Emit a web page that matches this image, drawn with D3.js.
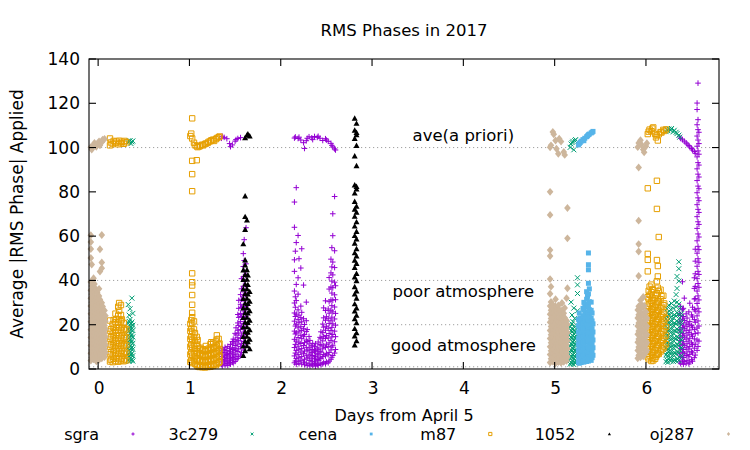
<!DOCTYPE html>
<html>
<head>
<meta charset="utf-8">
<script src="https://cdn.jsdelivr.net/npm/d3@7"></script>
<style>
  body { margin: 0; background: #fff; }
  svg text { font-family: "DejaVu Sans", sans-serif; }
</style>
</head>
<body>
<svg id="chart" width="750" height="450"></svg>
<script>
// each entry: [day from April 5, [RMS phase values read at that time]]
const sgra = [
  [1.35, [2.1, 4.3, 6.8, 8.2, 104.2]],
  [1.36, [1.4, 3.2, 5.6, 7.4, 9.1, 105.1]],
  [1.38, [2.6, 4.1, 6.2, 8.7, 104.6]],
  [1.39, [1.8, 3.7, 5.1, 7.6, 9.8]],
  [1.41, [2.4, 4.8, 6.5, 8.4, 104.0]],
  [1.42, [1.6, 3.3, 5.9, 7.1, 10.2]],
  [1.44, [2.9, 4.5, 6.9, 9.3, 101.8]],
  [1.45, [2.2, 3.9, 5.4, 8.0, 11.1, 100.4]],
  [1.47, [3.1, 5.2, 7.3, 9.6, 12.4, 101.2]],
  [1.48, [2.7, 4.6, 6.4, 8.8, 11.7, 13.5]],
  [1.50, [3.4, 5.8, 8.3, 10.6, 13.2, 16.1, 102.9]],
  [1.51, [4.2, 6.7, 9.4, 12.3, 15.4, 18.6, 103.6]],
  [1.53, [4.8, 7.9, 11.2, 14.1, 17.5, 20.8, 24.6, 104.1]],
  [1.54, [5.6, 9.1, 12.8, 16.2, 19.7, 23.3, 27.4, 31.0]],
  [1.56, [6.3, 10.2, 13.9, 17.8, 21.4, 25.1, 29.2, 33.6, 104.5]],
  [1.57, [7.4, 11.6, 15.3, 19.2, 23.7, 27.8, 31.5, 36.2, 40.8]],
  [1.59, [8.6, 12.4, 16.7, 20.5, 24.9, 28.3, 32.9, 37.4, 41.6, 46.3, 52.1]],
  [1.60, [9.8, 14.1, 18.3, 22.6, 26.2, 30.7, 34.8, 39.5, 44.2, 49.0, 58.4]],
  [1.62, [11.3, 15.6, 19.9, 23.8, 28.1, 33.4, 37.2, 42.7, 47.5, 63.8]],
  [2.15, [2.8, 5.9, 9.7, 13.4, 17.1, 21.6, 25.3, 29.8, 35.2, 44.1, 49.3, 64.0, 75.4, 104.3]],
  [2.16, [3.6, 7.2, 11.1, 15.8, 19.4, 23.7, 27.9, 32.6, 53.2, 104.8]],
  [2.17, [2.1, 4.7, 8.4, 12.6, 16.3, 20.2, 24.8, 30.9, 38.2, 57.1, 81.9]],
  [2.19, [3.3, 6.6, 10.3, 14.2, 18.6, 22.4, 26.7, 33.8, 41.2, 60.3, 104.1]],
  [2.20, [2.4, 5.1, 8.9, 12.1, 16.8, 20.9, 24.3, 49.8, 104.7]],
  [2.22, [3.9, 7.6, 11.5, 15.2, 19.1, 23.2, 28.4, 45.6, 103.4]],
  [2.23, [2.2, 5.6, 9.2, 13.7, 17.4, 21.3, 25.6, 54.3]],
  [2.25, [3.1, 6.9, 10.6, 14.8, 18.2, 22.7, 37.9, 102.2]],
  [2.26, [1.9, 4.4, 8.1, 11.9, 15.6, 20.1, 99.6]],
  [2.28, [2.7, 6.2, 9.8, 13.1, 16.9, 21.8, 30.2, 103.1]],
  [2.29, [1.6, 4.9, 8.6, 12.4, 17.8, 104.2]],
  [2.31, [2.3, 5.4, 8.2, 11.3, 14.7, 104.9]],
  [2.32, [1.4, 3.8, 6.7, 9.6, 12.9]],
  [2.34, [2.1, 4.6, 7.4, 10.5, 104.4]],
  [2.35, [1.7, 3.5, 6.1, 8.8, 11.6, 103.6]],
  [2.37, [2.5, 4.9, 7.8, 10.1, 105.0]],
  [2.38, [1.3, 3.2, 5.7, 8.3, 11.4]],
  [2.40, [2.0, 4.3, 6.9, 9.5, 104.6]],
  [2.41, [1.6, 3.9, 6.4, 8.9, 12.2, 105.1]],
  [2.43, [2.6, 5.3, 8.0, 11.0, 14.3, 104.2]],
  [2.44, [1.9, 4.7, 7.6, 10.8, 13.9, 16.8]],
  [2.46, [2.3, 5.6, 9.1, 12.7, 16.4, 20.3, 103.2]],
  [2.47, [3.0, 6.5, 10.4, 14.6, 18.9, 23.1, 27.6]],
  [2.49, [2.4, 5.9, 9.7, 13.8, 17.5, 22.0, 26.4, 30.8, 104.0]],
  [2.50, [3.3, 7.1, 11.2, 15.1, 19.3, 23.6, 103.4]],
  [2.52, [2.8, 6.4, 10.1, 14.0, 18.4, 22.7, 27.1, 102.8]],
  [2.53, [3.6, 7.5, 11.8, 16.0, 20.6, 25.2, 30.4, 36.1, 41.3]],
  [2.55, [4.4, 8.6, 12.9, 17.4, 21.8, 26.5, 31.2, 37.0, 43.4, 49.6, 101.9]],
  [2.56, [5.3, 9.9, 14.5, 18.8, 23.4, 28.6, 34.3, 39.7, 46.1, 54.8, 101.0]],
  [2.57, [6.1, 10.7, 15.6, 20.4, 25.8, 31.1, 36.7, 42.5, 48.3, 60.2, 70.1, 100.3]],
  [2.59, [7.2, 12.3, 17.1, 22.6, 28.0, 33.5, 39.2, 45.8, 53.4, 77.9, 99.4]],
  [2.60, [8.8, 14.6, 19.8, 25.1, 31.3, 37.6, 98.9]],
  [6.37, [3.2, 6.8, 10.5, 14.1, 17.9, 21.6, 25.2, 104.8]],
  [6.38, [2.4, 5.7, 9.3, 12.8, 16.6, 20.4, 24.1, 28.3, 104.1]],
  [6.40, [3.7, 7.4, 11.1, 15.0, 18.7, 22.5, 26.8, 39.4, 103.5]],
  [6.41, [2.1, 5.2, 8.8, 12.3, 16.1, 19.8, 23.7, 27.4]],
  [6.42, [3.4, 6.9, 10.7, 14.4, 18.2, 21.9, 32.0, 102.9]],
  [6.44, [2.6, 6.1, 9.6, 13.5, 17.3, 20.8, 24.9, 102.1]],
  [6.45, [3.9, 7.7, 11.4, 15.3, 19.1, 23.0, 101.6]],
  [6.47, [2.3, 5.5, 9.0, 12.6, 16.4, 20.2, 25.8, 100.9]],
  [6.48, [3.1, 6.6, 10.2, 13.9, 17.6, 21.4, 29.7, 100.3]],
  [6.50, [4.2, 8.0, 11.8, 15.7, 19.6, 24.4, 99.6]],
  [6.51, [3.5, 7.3, 11.0, 14.8, 18.9, 23.5, 27.9, 98.9]],
  [6.53, [5.1, 9.4, 13.6, 17.8, 22.3, 26.9, 31.6, 36.4, 41.2, 98.2]],
  [6.54, [6.3, 11.2, 16.0, 21.1, 26.2, 31.8, 37.3, 43.0, 48.7, 54.1, 97.4]],
  [6.56, [8.4, 13.1, 18.5, 24.0, 29.6, 35.2, 40.8, 46.4, 52.3, 57.9, 63.5, 68.8, 74.2, 79.6, 85.1, 90.4, 95.8, 100.6, 105.2, 110.3, 117.2, 120.1]],
  [6.57, [10.2, 16.3, 21.7, 27.4, 33.0, 38.6, 44.1, 49.8, 55.4, 61.0, 66.5, 72.1, 77.3, 82.6, 88.0, 93.2, 98.5, 103.4, 108.1, 112.6, 129.1]],
  [6.58, [12.6, 19.4, 25.8, 31.2, 36.9, 42.7, 48.2, 53.9, 59.6, 65.3, 70.7, 76.0, 81.4, 86.7, 92.1, 97.0, 101.8, 106.9]]
]

const c3c279 = [
  [0.33, [4.1, 6.8, 9.5, 12.3, 15.2, 18.0, 20.7, 29.1, 102.2]],
  [0.34, [3.4, 5.9, 8.6, 11.4, 14.1, 17.2, 21.5, 24.3, 102.9]],
  [0.35, [4.7, 7.5, 10.3, 13.0, 16.1, 19.1, 22.4, 27.2, 103.1]],
  [0.36, [3.8, 6.3, 9.1, 12.0, 14.8, 17.7, 20.4, 101.8]],
  [0.37, [4.4, 7.1, 9.9, 12.8, 15.6, 18.6, 21.2, 32.0, 102.6]],
  [0.38, [3.6, 6.0, 8.9, 11.6, 14.5, 17.4, 19.8, 25.1, 103.0]],
  [5.17, [2.2, 4.8, 7.6, 10.4, 13.3, 16.1, 19.0, 100.1]],
  [5.18, [3.1, 5.9, 8.7, 11.5, 14.4, 17.5, 30.2, 101.6]],
  [5.19, [2.5, 5.2, 8.1, 10.9, 13.8, 16.8, 20.3, 24.4, 102.3]],
  [5.20, [3.4, 6.3, 9.2, 12.1, 15.0, 18.0, 21.4, 102.8]],
  [5.21, [2.0, 4.6, 7.3, 10.2, 13.1, 15.9, 19.2, 27.5, 99.0]],
  [5.22, [3.0, 5.7, 8.5, 11.3, 14.2, 17.3, 22.8, 103.1]],
  [5.23, [2.7, 5.4, 8.3, 11.1, 14.0, 16.6, 103.6]],
  [5.25, [3.5, 6.6, 9.6, 12.6, 15.4, 18.4, 26.3, 34.1, 38.0, 41.2]],
  [6.22, [3.3, 6.4, 9.5, 12.7, 15.9, 19.2, 22.6, 107.2]],
  [6.23, [4.1, 7.3, 10.6, 13.8, 17.1, 20.5, 24.0, 27.2, 108.1]],
  [6.24, [3.0, 6.0, 9.1, 12.2, 15.4, 18.6, 21.9, 25.5, 107.6]],
  [6.25, [4.5, 7.7, 10.9, 14.2, 17.5, 20.9, 24.6, 28.8, 108.4]],
  [6.27, [3.6, 6.7, 9.8, 13.1, 16.4, 19.8, 23.3, 26.9, 107.9]],
  [6.28, [4.8, 8.0, 11.3, 14.6, 18.0, 21.5, 25.2, 29.6, 108.6]],
  [6.30, [3.4, 6.5, 9.7, 12.9, 16.2, 19.6, 23.1, 27.5, 107.1]],
  [6.31, [4.3, 7.5, 10.8, 14.1, 17.4, 20.8, 24.5, 30.7, 107.8]],
  [6.33, [3.7, 6.9, 10.2, 13.5, 16.9, 20.3, 23.9, 28.1, 33.6, 106.9]],
  [6.34, [4.6, 7.9, 11.2, 14.6, 18.1, 21.6, 25.4, 30.2, 36.4, 41.8, 106.3]],
  [6.36, [3.9, 7.2, 10.5, 13.9, 17.4, 21.0, 24.8, 29.3, 39.7, 45.3, 48.4, 105.6]],
  [6.37, [5.2, 8.6, 12.1, 15.6, 19.3, 23.1, 27.4, 104.7]],
  [6.39, [6.0, 9.7, 13.4, 17.2, 21.1, 25.0]]
]

const cena = [
  [5.26, [3.2, 5.8, 8.5, 11.2, 13.9, 16.7, 19.6, 22.4, 101.2]],
  [5.27, [2.6, 5.1, 7.8, 10.6, 13.4, 16.2, 19.0, 21.9, 25.3, 101.8]],
  [5.28, [3.5, 6.2, 9.0, 11.8, 14.6, 17.5, 20.4, 23.1, 102.3]],
  [5.29, [2.9, 5.5, 8.3, 11.1, 13.8, 16.6, 19.5, 22.8, 102.9]],
  [5.31, [3.7, 6.5, 9.3, 12.2, 15.0, 17.9, 20.9, 24.0, 27.4, 103.6]],
  [5.32, [3.1, 5.9, 8.8, 11.7, 14.5, 17.4, 20.5, 23.6, 26.8, 30.1, 103.1]],
  [5.33, [4.0, 6.8, 9.7, 12.6, 15.5, 18.5, 21.6, 24.8, 28.2, 104.2]],
  [5.35, [3.4, 6.3, 9.2, 12.1, 15.1, 18.1, 21.2, 24.5, 27.9, 31.5, 34.9, 104.9]],
  [5.36, [4.3, 7.2, 10.1, 13.1, 16.1, 19.2, 22.4, 25.7, 29.2, 32.8, 105.3]],
  [5.37, [3.6, 6.5, 9.5, 12.5, 15.5, 18.6, 21.8, 25.1, 28.6, 33.9, 38.7, 44.8, 47.1, 52.4, 105.8]],
  [5.38, [4.6, 7.6, 10.6, 13.7, 16.8, 20.0, 23.3, 26.8, 30.4, 36.2, 106.1]],
  [5.40, [3.9, 6.9, 10.0, 13.1, 16.3, 19.6, 23.0, 26.5, 30.2, 106.6]],
  [5.41, [5.1, 8.3, 11.5, 14.8, 18.2, 21.7, 25.3, 106.9]],
  [5.42, [6.2, 9.6, 13.1, 16.7, 20.4, 107.3]]
]

const m87 = [
  [0.13, [3.4, 6.7, 10.1, 13.6, 17.2, 21.9, 104.1, 101.0]],
  [0.14, [4.2, 7.5, 11.0, 14.4, 18.0, 102.3]],
  [0.16, [3.1, 6.3, 9.8, 13.2, 16.7, 20.3, 101.6]],
  [0.17, [4.6, 8.0, 11.5, 14.9, 18.6, 22.1, 103.0]],
  [0.19, [3.6, 7.0, 10.4, 13.9, 17.5, 21.1, 25.0, 102.1]],
  [0.20, [4.9, 8.4, 11.9, 15.4, 19.0, 22.6, 102.7]],
  [0.22, [3.3, 6.8, 10.3, 13.8, 17.4, 21.0, 24.2, 28.1, 101.5]],
  [0.23, [4.4, 7.9, 11.4, 14.9, 18.5, 22.3, 26.3, 29.8, 103.1]],
  [0.25, [3.8, 7.2, 10.7, 14.2, 17.8, 21.6, 24.4, 28.9, 102.0]],
  [0.26, [4.7, 8.2, 11.7, 15.2, 18.8, 22.4, 102.6]],
  [0.28, [3.5, 6.9, 10.4, 13.9, 17.6, 20.8, 101.7]],
  [0.29, [4.3, 7.8, 11.2, 14.7, 18.3, 103.0]],
  [0.31, [3.9, 7.3, 10.8, 14.3, 17.9, 102.4]],
  [1.01, [3.2, 6.6, 10.1, 13.6, 17.2, 20.4, 105.2]],
  [1.02, [4.0, 7.5, 11.0, 14.6, 18.3, 22.1, 106.3]],
  [1.03, [2.7, 6.0, 9.5, 13.1, 16.8, 20.6, 23.4, 25.4, 29.0, 33.4, 37.7, 39.2, 43.2, 80.3, 88.0, 94.0, 113.2, 104.1]],
  [1.05, [3.5, 7.0, 10.6, 14.2, 17.9, 21.5, 102.2]],
  [1.06, [2.3, 5.6, 9.1, 12.7, 16.2, 101.1]],
  [1.08, [1.8, 4.8, 8.0, 11.3, 14.5, 94.3, 100.6]],
  [1.09, [1.2, 4.1, 7.2, 10.3, 13.1, 100.2]],
  [1.11, [0.9, 3.5, 6.3, 9.2, 100.5]],
  [1.12, [1.5, 4.2, 7.0, 9.6, 100.9]],
  [1.14, [0.8, 3.2, 5.8, 8.4, 101.3]],
  [1.15, [1.3, 3.9, 6.5, 8.9, 101.0]],
  [1.17, [0.7, 3.0, 5.5, 8.1, 101.6]],
  [1.18, [1.4, 3.8, 6.2, 8.7, 10.4, 101.8]],
  [1.20, [0.9, 3.3, 5.9, 8.4, 102.1]],
  [1.21, [1.6, 4.1, 6.6, 9.2, 102.6]],
  [1.23, [1.0, 3.6, 6.2, 8.8, 11.2, 102.9]],
  [1.24, [1.9, 4.5, 7.1, 9.7, 12.1, 103.3]],
  [1.26, [1.4, 4.0, 6.7, 9.3, 11.8, 103.6]],
  [1.27, [2.1, 4.7, 7.4, 10.0, 103.0]],
  [1.29, [1.7, 4.3, 7.0, 9.6, 12.4, 103.8]],
  [1.30, [2.4, 5.1, 7.8, 10.5, 13.3, 15.2, 104.3]],
  [1.32, [2.8, 5.5, 8.2, 11.0, 13.6, 104.7]],
  [1.33, [3.3, 6.0, 8.8, 11.5, 105.0]],
  [6.02, [5.3, 9.1, 13.0, 16.9, 20.8, 24.7, 28.6, 32.4, 44.1, 49.3, 52.0, 81.6, 106.1]],
  [6.03, [4.4, 8.2, 12.1, 16.0, 19.9, 23.8, 27.7, 31.6, 35.3, 107.2]],
  [6.04, [6.1, 10.0, 13.9, 17.8, 21.7, 25.6, 29.5, 33.5, 37.2, 108.1]],
  [6.06, [3.6, 7.4, 11.3, 15.2, 19.1, 23.0, 26.9, 30.8, 34.7, 38.1, 107.4]],
  [6.07, [5.0, 8.8, 12.7, 16.6, 20.5, 24.4, 28.3, 32.2, 36.1, 108.6]],
  [6.08, [3.9, 7.7, 11.6, 15.5, 19.4, 23.3, 27.2, 31.1, 35.6, 109.1]],
  [6.10, [4.6, 8.5, 12.4, 16.3, 20.2, 24.1, 28.0, 31.9, 106.2]],
  [6.11, [5.6, 9.5, 13.4, 17.3, 21.2, 25.1, 29.0, 33.4, 104.6]],
  [6.12, [6.4, 10.3, 14.2, 18.1, 22.0, 25.9, 29.8, 34.1, 39.6, 49.2, 72.3, 85.0, 105.5]],
  [6.13, [7.2, 11.1, 15.0, 18.9, 22.8, 26.7, 30.6, 36.7, 41.8, 46.5, 103.2]],
  [6.14, [6.8, 10.7, 14.6, 18.5, 22.4, 26.3, 30.4, 35.2, 59.6, 106.0]],
  [6.16, [7.9, 11.8, 15.7, 19.6, 23.5, 27.4, 31.5, 35.8, 107.0]],
  [6.17, [8.6, 12.5, 16.4, 20.3, 24.2, 28.1, 32.9, 106.8]],
  [6.19, [9.3, 13.2, 17.1, 21.0, 24.9, 28.8, 33.1, 108.0]],
  [6.20, [10.1, 14.0, 17.9, 21.8, 25.7, 29.6, 107.5]],
  [6.22, [11.2, 15.1, 19.0, 22.9, 108.2]]
]

const n1052 = [
  [1.59, [6.1, 10.3, 14.6, 18.9, 23.2, 27.5, 31.8, 36.1, 40.4, 44.7, 56.5]],
  [1.61, [8.2, 12.5, 16.8, 21.1, 25.4, 29.7, 34.0, 38.3, 42.6, 46.9, 49.2, 63.0, 68.8, 78.1, 104.4]],
  [1.63, [10.4, 14.7, 19.0, 23.3, 27.6, 31.9, 36.2, 40.5, 44.8, 67.2, 105.6]],
  [1.64, [12.3, 16.6, 20.9, 25.2, 29.5, 33.8, 38.1, 42.4, 106.1]],
  [1.66, [9.1, 13.4, 17.7, 22.0, 26.3, 30.6, 34.9, 105.2]],
  [2.81, [10.8, 14.9, 18.2, 22.6, 26.1, 29.4, 33.8, 37.1, 41.5, 45.8, 49.1, 52.4, 56.8, 60.2, 64.5, 68.9, 72.1, 75.6, 79.4, 83.1, 96.2, 104.1, 107.8, 113.2]],
  [2.83, [12.7, 16.3, 20.8, 24.2, 27.5, 31.9, 35.2, 39.8, 43.1, 47.6, 51.0, 54.3, 58.7, 62.1, 66.4, 70.8, 73.5, 81.2, 82.4, 91.8, 100.9, 105.7, 106.8, 110.9]]
]

const oj287 = [
  [-0.08, [3.8, 7.1, 10.6, 14.2, 17.7, 21.3, 24.9, 28.4, 32.0, 35.6, 39.3, 50.1, 54.2, 57.3, 60.4, 100.2]],
  [-0.07, [5.2, 8.7, 12.3, 15.8, 19.4, 23.0, 26.6, 30.2, 33.8, 37.5, 47.2, 99.1]],
  [-0.05, [4.4, 7.9, 11.5, 15.1, 18.6, 22.2, 25.8, 29.4, 33.0, 36.7, 41.0, 101.3]],
  [-0.04, [6.0, 9.5, 13.1, 16.7, 20.3, 23.9, 27.5, 31.1, 34.8, 38.4, 102.1]],
  [-0.02, [3.5, 7.0, 10.6, 14.2, 17.8, 21.4, 25.0, 28.6, 32.2, 35.9, 100.4]],
  [-0.01, [5.6, 9.1, 12.7, 16.3, 19.9, 23.5, 27.1, 30.7, 34.4, 101.5]],
  [0.01, [4.2, 7.7, 11.3, 14.9, 18.5, 22.1, 25.7, 29.3, 33.0, 36.2, 102.8]],
  [0.02, [6.3, 9.8, 13.4, 17.0, 20.6, 24.2, 27.8, 31.4, 44.0, 54.1, 101.0]],
  [0.04, [4.8, 8.3, 11.9, 15.5, 19.1, 22.7, 26.3, 29.9, 45.5, 48.1, 60.5, 102.4]],
  [0.05, [6.7, 10.2, 13.8, 17.4, 21.0, 24.6, 28.2, 103.6]],
  [0.07, [5.4, 8.9, 12.5, 16.1, 19.7, 23.3, 26.4, 103.9]],
  [0.08, [7.3, 10.8, 14.4, 18.0, 21.6, 24.1]],
  [4.95, [2.9, 6.5, 10.1, 13.8, 17.4, 21.1, 24.7, 28.4, 34.0, 40.6, 51.0, 53.7, 69.6, 80.0, 100.1]],
  [4.96, [4.6, 8.2, 11.9, 15.5, 19.2, 22.8, 26.5, 30.3, 37.2, 101.0]],
  [4.98, [3.4, 7.0, 10.7, 14.3, 18.0, 21.6, 25.3, 29.0, 107.0]],
  [4.99, [5.1, 8.8, 12.4, 16.1, 19.7, 23.4, 27.1, 106.0]],
  [5.01, [2.6, 6.2, 9.9, 13.5, 17.2, 20.8, 24.5, 28.2, 31.5, 103.2]],
  [5.02, [4.3, 7.9, 11.6, 15.2, 18.9, 22.5, 26.2, 99.5]],
  [5.04, [3.1, 6.7, 10.4, 14.0, 17.7, 21.3, 25.0, 28.7, 97.2]],
  [5.05, [4.8, 8.5, 12.1, 15.8, 19.4, 23.1, 26.9, 104.0]],
  [5.07, [2.8, 6.4, 10.1, 13.7, 17.4, 21.0, 24.7, 102.7]],
  [5.08, [4.5, 8.1, 11.8, 15.4, 19.1, 22.7, 26.4, 29.8]],
  [5.10, [3.3, 6.9, 10.6, 14.2, 17.9, 21.5, 25.2, 98.0]],
  [5.11, [5.0, 8.6, 12.3, 15.9, 19.6, 23.2, 27.6, 96.7]],
  [5.13, [3.7, 7.3, 11.0, 14.6, 18.3, 21.9, 32.0]],
  [5.14, [5.5, 9.2, 12.8, 16.5, 20.1, 36.5, 59.0, 72.7]],
  [5.91, [4.8, 8.4, 12.1, 15.7, 19.4, 23.0, 26.7, 100.2]],
  [5.92, [6.2, 9.9, 13.5, 17.2, 20.8, 24.5, 28.3, 42.0, 53.1, 56.4, 67.0, 91.0, 102.1]],
  [5.94, [5.3, 8.9, 12.6, 16.2, 19.9, 23.5, 27.2, 31.0, 103.3]],
  [5.95, [7.0, 10.7, 14.3, 18.0, 21.6, 25.3, 29.1, 101.4]],
  [5.97, [5.7, 9.4, 13.0, 16.7, 20.3, 24.0, 27.8, 32.5, 99.1]],
  [5.98, [6.6, 10.2, 13.9, 17.5, 21.2, 24.9, 28.6, 97.9]],
  [6.00, [7.5, 11.1, 14.8, 18.4, 22.1, 25.8, 100.6]],
  [6.01, [8.3, 12.0, 15.6, 19.3, 23.0, 102.0]]
]

const seriesNames = ['sgra', '3c279', 'cena', 'm87', '1052', 'oj287']
const seriesData = [sgra, c3c279, cena, m87, n1052, oj287]
const xTicks = [0, 1, 2, 3, 4, 5, 6]
const yTicks = [0, 20, 40, 60, 80, 100, 120, 140]
const refLines = [1, 20, 40, 100]
const refLabels = [
  { text: 'ave(a priori)', day: 4, value: 103 },
  { text: 'poor atmosphere', day: 4, value: 32.7 },
  { text: 'good atmosphere', day: 4, value: 8.1 },
]

const width = 750
const height = 450
const margin = { top: 59, right: 31, bottom: 81, left: 89 }

const svg = d3.select('#chart')
svg.append('rect').attr('width', width).attr('height', height).attr('fill', '#fff')

const x = d3.scaleLinear().domain([-0.1, 6.8]).range([margin.left, width - margin.right])
const y = d3.scaleLinear().domain([0, 140]).range([height - margin.bottom, margin.top])

// gnuplot-like point types
const shapes = {
  plus: (r) => `M${-r},0H${r}M0,${-r}V${r}`,
  times: (r) => `M${-r},${-r}L${r},${r}M${-r},${r}L${r},${-r}`,
  square: (r) => `M${-r},${-r}H${r}V${r}H${-r}Z`,
  triangle: (r) => `M0,${-r}L${r},${r * 0.8}H${-r}Z`,
  diamond: (r) => `M0,${-r * 1.2}L${r},0L0,${r * 1.2}L${-r},0Z`,
}
const styles = [
  { shape: 'plus', r: 2.8, fill: 'none', stroke: '#9400d3', lr: 1.6 },
  { shape: 'times', r: 2.5, fill: 'none', stroke: '#009e73', lr: 1.4 },
  { shape: 'square', r: 2.5, fill: '#56b4e9', stroke: 'none', lr: 1.4 },
  { shape: 'square', r: 2.7, fill: 'none', stroke: '#e69f00', lr: 1.6 },
  { shape: 'triangle', r: 3, fill: '#000', stroke: 'none', lr: 1.6 },
  { shape: 'diamond', r: 3.3, fill: '#cdb69c', stroke: 'none', lr: 1.6 },
]

// dotted reference lines
svg.append('g')
  .selectAll('line')
  .data(refLines)
  .join('line')
  .attr('x1', margin.left)
  .attr('x2', width - margin.right)
  .attr('y1', (d) => y(d))
  .attr('y2', (d) => y(d))
  .attr('stroke', '#a0a0a0')
  .attr('stroke-width', 1)
  .attr('stroke-dasharray', '1.2,2.8')

// labels inside plot
svg.append('g')
  .selectAll('text')
  .data(refLabels)
  .join('text')
  .attr('x', (d) => x(d.day))
  .attr('y', (d) => y(d.value))
  .attr('text-anchor', 'middle')
  .attr('font-size', 16.5)
  .attr('fill', '#000')
  .text((d) => d.text)

// points
seriesData.forEach((cols, i) => {
  const st = styles[i]
  const pts = cols.flatMap(([day, vals]) => vals.map((v) => [day, v]))
  svg.append('g')
    .attr('id', seriesNames[i])
    .selectAll('path')
    .data(pts)
    .join('path')
    .attr('transform', (d) => `translate(${x(d[0])},${y(d[1])})`)
    .attr('d', shapes[st.shape](st.r))
    .attr('fill', st.fill)
    .attr('stroke', st.stroke)
    .attr('stroke-width', 1)
})

// frame and ticks (mirrored, pointing inward)
const frame = svg.append('g')
const x0 = margin.left, x1 = width - margin.right
const y0 = height - margin.bottom, y1 = margin.top
const tl = 7
xTicks.forEach((t) => {
  frame.append('line').attr('x1', x(t)).attr('x2', x(t)).attr('y1', y0).attr('y2', y0 - tl)
  frame.append('line').attr('x1', x(t)).attr('x2', x(t)).attr('y1', y1).attr('y2', y1 + tl)
})
yTicks.forEach((t) => {
  frame.append('line').attr('x1', x0).attr('x2', x0 + tl).attr('y1', y(t)).attr('y2', y(t))
  frame.append('line').attr('x1', x1).attr('x2', x1 - tl).attr('y1', y(t)).attr('y2', y(t))
})
frame.append('rect')
  .attr('x', x0).attr('y', y1)
  .attr('width', x1 - x0).attr('height', y0 - y1)
  .attr('fill', 'none')
frame.selectAll('line, rect').attr('stroke', '#000').attr('stroke-width', 1.1)

// tick labels
svg.append('g')
  .selectAll('text')
  .data(xTicks)
  .join('text')
  .attr('x', (d) => x(d) + 1)
  .attr('y', 394)
  .attr('text-anchor', 'middle')
  .attr('font-size', 17)
  .text((d) => d)

svg.append('g')
  .selectAll('text')
  .data(yTicks)
  .join('text')
  .attr('x', 80)
  .attr('y', (d) => y(d) + 6)
  .attr('text-anchor', 'end')
  .attr('font-size', 17)
  .text((d) => d)

// titles
svg.append('text')
  .attr('x', (x0 + x1) / 2)
  .attr('y', 36)
  .attr('text-anchor', 'middle')
  .attr('font-size', 16.5)
  .text('RMS Phases in 2017')

svg.append('text')
  .attr('x', (x0 + x1) / 2)
  .attr('y', 421)
  .attr('text-anchor', 'middle')
  .attr('font-size', 16)
  .text('Days from April 5')

svg.append('text')
  .attr('transform', `translate(23,${(y0 + y1) / 2}) rotate(-90)`)
  .attr('text-anchor', 'middle')
  .attr('font-size', 17)
  .text('Average |RMS Phase| Applied')

// legend along the bottom
const legend = svg.append('g').attr('id', 'legend')
seriesNames.forEach((name, i) => {
  const st = styles[i]
  const right = 99 + i * 119.1
  legend.append('text')
    .attr('x', right)
    .attr('y', 440)
    .attr('text-anchor', 'end')
    .attr('font-size', 16)
    .text(name)
  legend.append('path')
    .attr('transform', `translate(${right + 34},434)`)
    .attr('d', shapes[st.shape](st.lr))
    .attr('fill', st.fill)
    .attr('stroke', st.stroke)
    .attr('stroke-width', 1)
})
</script>
</body>
</html>
